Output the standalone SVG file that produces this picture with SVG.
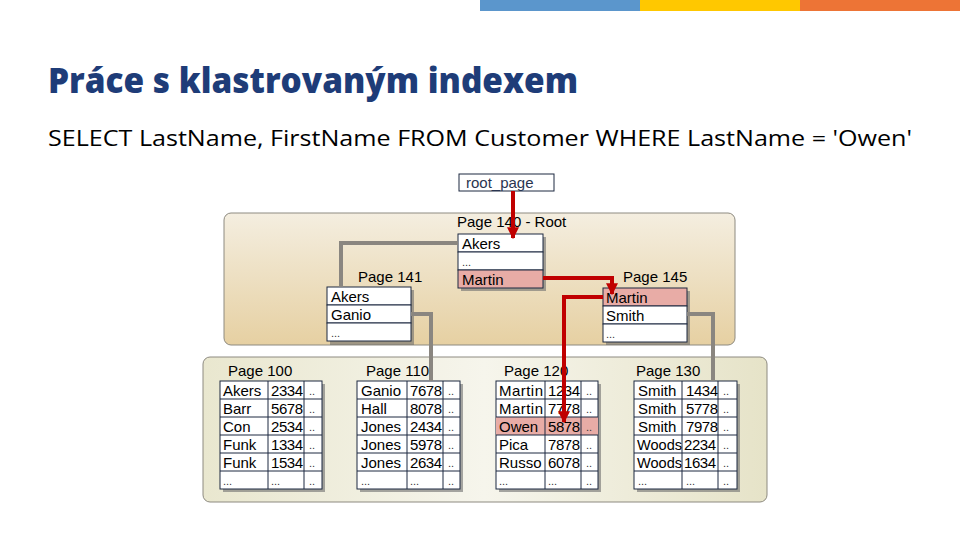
<svg xmlns="http://www.w3.org/2000/svg" width="960" height="540" viewBox="0 0 960 540">
<defs>
<linearGradient id="gUp" x1="0" y1="0" x2="0" y2="1"><stop offset="0" stop-color="#f4eee0"/><stop offset="1" stop-color="#e6d0a2"/></linearGradient>
<linearGradient id="gLow" x1="0" y1="0" x2="1" y2="0"><stop offset="0" stop-color="#e9e7cf"/><stop offset="0.5" stop-color="#f6f5ec"/><stop offset="1" stop-color="#e6e3c8"/></linearGradient>
<marker id="ah" viewBox="0 0 10 10" refX="9" refY="5" markerWidth="3" markerHeight="3" orient="auto" markerUnits="strokeWidth"><path d="M0,0 L10,5 L0,10 z" fill="#c00000"/></marker>
</defs>
<style>
.t{font-family:"Liberation Sans",Arial,sans-serif;font-size:15px;fill:#000}
.d{font-family:"Liberation Sans",Arial,sans-serif;font-size:11px;fill:#333}
.c{fill:#fff;stroke:#1c2840;stroke-width:1}
.p{fill:#e8aca6;stroke:#1c2840;stroke-width:1}
.sh{fill:#6e6e6e;opacity:0.6}
.g{fill:none;stroke:#8a8680;stroke-width:4}
.r{fill:none;stroke:#c00000;stroke-width:4}
</style>
<rect x="480" y="0" width="160" height="11" fill="#5b96cc"/>
<rect x="640" y="0" width="160" height="11" fill="#ffc800"/>
<rect x="800" y="0" width="160" height="11" fill="#ed7436"/>
<text x="48" y="93" font-family="'Open Sans','Noto Sans',sans-serif" font-weight="800" font-size="36" fill="#1e3c78" textLength="530" lengthAdjust="spacingAndGlyphs">Práce s klastrovaným indexem</text>
<text x="48" y="146" font-family="'Open Sans','Noto Sans',sans-serif" font-size="22" fill="#000" textLength="864" lengthAdjust="spacingAndGlyphs">SELECT LastName, FirstName FROM Customer WHERE LastName = 'Owen'</text>

<rect x="224" y="213" width="511" height="132" rx="7" fill="url(#gUp)" stroke="#8d8a80" stroke-width="1"/>
<rect x="203" y="357" width="564" height="145" rx="7" fill="url(#gLow)" stroke="#8d8a80" stroke-width="1"/>

<g id="root_page">
<rect x="459" y="174" width="95" height="17" fill="#fff" stroke="#1c2840"/>
<text x="466" y="188" class="t" style="fill:#2a3550">root_page</text>
</g>

<g id="page140">
<text x="457" y="227" class="t">Page 140 - Root</text>
<rect x="461" y="237" width="85" height="54" class="sh"/>
<rect x="458" y="234" width="85" height="18" class="c"/><text x="462" y="249" class="t">Akers</text>
<rect x="458" y="252" width="85" height="18" class="c"/><text x="462" y="266" class="d">...</text>
<rect x="458" y="270" width="85" height="18" class="p"/><text x="462" y="285" class="t">Martin</text>
</g>

<g id="page141">
<text x="358" y="282" class="t">Page 141</text>
<rect x="330" y="290" width="84" height="55" class="sh"/>
<rect x="327" y="287" width="84" height="18" class="c"/><text x="331" y="302" class="t">Akers</text>
<rect x="327" y="305" width="84" height="18" class="c"/><text x="331" y="320" class="t">Ganio</text>
<rect x="327" y="323" width="84" height="18" class="c"/><text x="331" y="337" class="d">...</text>
</g>

<g id="page145">
<text x="623" y="282" class="t">Page 145</text>
<rect x="606" y="291" width="84" height="54" class="sh"/>
<rect x="603" y="288" width="84" height="18" class="p"/><text x="606" y="303" class="t">Martin</text>
<rect x="603" y="306" width="84" height="18" class="c"/><text x="606" y="321" class="t">Smith</text>
<rect x="603" y="324" width="84" height="18" class="c"/><text x="606" y="338" class="d">...</text>
</g>

<g id="page100">
<text x="228" y="376" class="t">Page 100</text>
<rect x="223" y="384" width="102" height="108" class="sh"/>
<rect x="220" y="381" width="102" height="108" class="c"/>
<g stroke="#1c2840" stroke-width="1"><line x1="220" y1="399" x2="322" y2="399"/><line x1="220" y1="417" x2="322" y2="417"/><line x1="220" y1="435" x2="322" y2="435"/><line x1="220" y1="453" x2="322" y2="453"/><line x1="220" y1="471" x2="322" y2="471"/><line x1="268" y1="381" x2="268" y2="489"/><line x1="304" y1="381" x2="304" y2="489"/></g>
<text x="223" y="396" class="t">Akers</text><text x="271" y="396" class="t" textLength="32">2334</text><text x="309" y="395" class="d">..</text>
<text x="223" y="414" class="t">Barr</text><text x="271" y="414" class="t" textLength="32">5678</text><text x="309" y="413" class="d">..</text>
<text x="223" y="432" class="t">Con</text><text x="271" y="432" class="t" textLength="32">2534</text><text x="309" y="431" class="d">..</text>
<text x="223" y="450" class="t">Funk</text><text x="271" y="450" class="t" textLength="32">1334</text><text x="309" y="449" class="d">..</text>
<text x="223" y="468" class="t">Funk</text><text x="271" y="468" class="t" textLength="32">1534</text><text x="309" y="467" class="d">..</text>
<text x="223" y="485" class="d">...</text><text x="271" y="485" class="d">...</text><text x="309" y="485" class="d">..</text>
</g>

<g id="page110">
<text x="366" y="376" class="t">Page 110</text>
<rect x="360" y="384" width="103" height="108" class="sh"/>
<rect x="357" y="381" width="103" height="108" class="c"/>
<g stroke="#1c2840" stroke-width="1"><line x1="357" y1="399" x2="460" y2="399"/><line x1="357" y1="417" x2="460" y2="417"/><line x1="357" y1="435" x2="460" y2="435"/><line x1="357" y1="453" x2="460" y2="453"/><line x1="357" y1="471" x2="460" y2="471"/><line x1="407" y1="381" x2="407" y2="489"/><line x1="443" y1="381" x2="443" y2="489"/></g>
<text x="361" y="396" class="t">Ganio</text><text x="410" y="396" class="t" textLength="32">7678</text><text x="448" y="395" class="d">..</text>
<text x="361" y="414" class="t">Hall</text><text x="410" y="414" class="t" textLength="32">8078</text><text x="448" y="413" class="d">..</text>
<text x="361" y="432" class="t">Jones</text><text x="410" y="432" class="t" textLength="32">2434</text><text x="448" y="431" class="d">..</text>
<text x="361" y="450" class="t">Jones</text><text x="410" y="450" class="t" textLength="32">5978</text><text x="448" y="449" class="d">..</text>
<text x="361" y="468" class="t">Jones</text><text x="410" y="468" class="t" textLength="32">2634</text><text x="448" y="467" class="d">..</text>
<text x="361" y="485" class="d">...</text><text x="410" y="485" class="d">...</text><text x="448" y="485" class="d">..</text>
</g>

<g id="page120">
<text x="504" y="376" class="t">Page 120</text>
<rect x="499" y="384" width="102" height="108" class="sh"/>
<rect x="496" y="381" width="102" height="108" class="c"/>
<rect x="496" y="417" width="102" height="18" fill="#e8aca6"/>
<g stroke="#1c2840" stroke-width="1"><line x1="496" y1="399" x2="598" y2="399"/><line x1="496" y1="417" x2="598" y2="417"/><line x1="496" y1="435" x2="598" y2="435"/><line x1="496" y1="453" x2="598" y2="453"/><line x1="496" y1="471" x2="598" y2="471"/><line x1="545" y1="381" x2="545" y2="489"/><line x1="581" y1="381" x2="581" y2="489"/></g>
<text x="499" y="396" class="t" textLength="44">Martin</text><text x="548" y="396" class="t" textLength="32">1234</text><text x="586" y="395" class="d">..</text>
<text x="499" y="414" class="t" textLength="44">Martin</text><text x="548" y="414" class="t" textLength="32">7778</text><text x="586" y="413" class="d">..</text>
<text x="499" y="432" class="t">Owen</text><text x="548" y="432" class="t" textLength="32">5878</text><text x="586" y="431" class="d">..</text>
<text x="499" y="450" class="t">Pica</text><text x="548" y="450" class="t" textLength="32">7878</text><text x="586" y="449" class="d">..</text>
<text x="499" y="468" class="t">Russo</text><text x="548" y="468" class="t" textLength="32">6078</text><text x="586" y="467" class="d">..</text>
<text x="499" y="485" class="d">...</text><text x="548" y="485" class="d">...</text><text x="586" y="485" class="d">..</text>
</g>

<g id="page130">
<text x="636" y="376" class="t">Page 130</text>
<rect x="637" y="384" width="103" height="108" class="sh"/>
<rect x="634" y="381" width="103" height="108" class="c"/>
<g stroke="#1c2840" stroke-width="1"><line x1="634" y1="399" x2="737" y2="399"/><line x1="634" y1="417" x2="737" y2="417"/><line x1="634" y1="435" x2="737" y2="435"/><line x1="634" y1="453" x2="737" y2="453"/><line x1="634" y1="471" x2="737" y2="471"/><line x1="682" y1="381" x2="682" y2="489"/><line x1="718" y1="381" x2="718" y2="489"/></g>
<text x="638" y="396" class="t">Smith</text><text x="686" y="396" class="t" textLength="32">1434</text><text x="723" y="395" class="d">..</text>
<text x="638" y="414" class="t">Smith</text><text x="686" y="414" class="t" textLength="32">5778</text><text x="723" y="413" class="d">..</text>
<text x="638" y="432" class="t">Smith</text><text x="686" y="432" class="t" textLength="32">7978</text><text x="723" y="431" class="d">..</text>
<text x="637" y="450" class="t" textLength="45" lengthAdjust="spacingAndGlyphs">Woods</text><text x="684" y="450" class="t" textLength="32">2234</text><text x="723" y="449" class="d">..</text>
<text x="637" y="468" class="t" textLength="45" lengthAdjust="spacingAndGlyphs">Woods</text><text x="684" y="468" class="t" textLength="32">1634</text><text x="723" y="467" class="d">..</text>
<text x="638" y="485" class="d">...</text><text x="686" y="485" class="d">...</text><text x="723" y="485" class="d">..</text>
</g>

<g id="connectors">
<polyline class="g" points="458,243 341,243 341,287"/>
<polyline class="g" points="411,314 431,314 431,381"/>
<polyline class="g" points="687,314 713,314 713,381"/>
<polyline class="r" points="513,191 513,238" marker-end="url(#ah)"/>
<polyline class="r" points="543,278 612,278 612,294" marker-end="url(#ah)"/>
<polyline class="r" points="603,297 564,297 564,422" marker-end="url(#ah)"/>
</g>
</svg>
